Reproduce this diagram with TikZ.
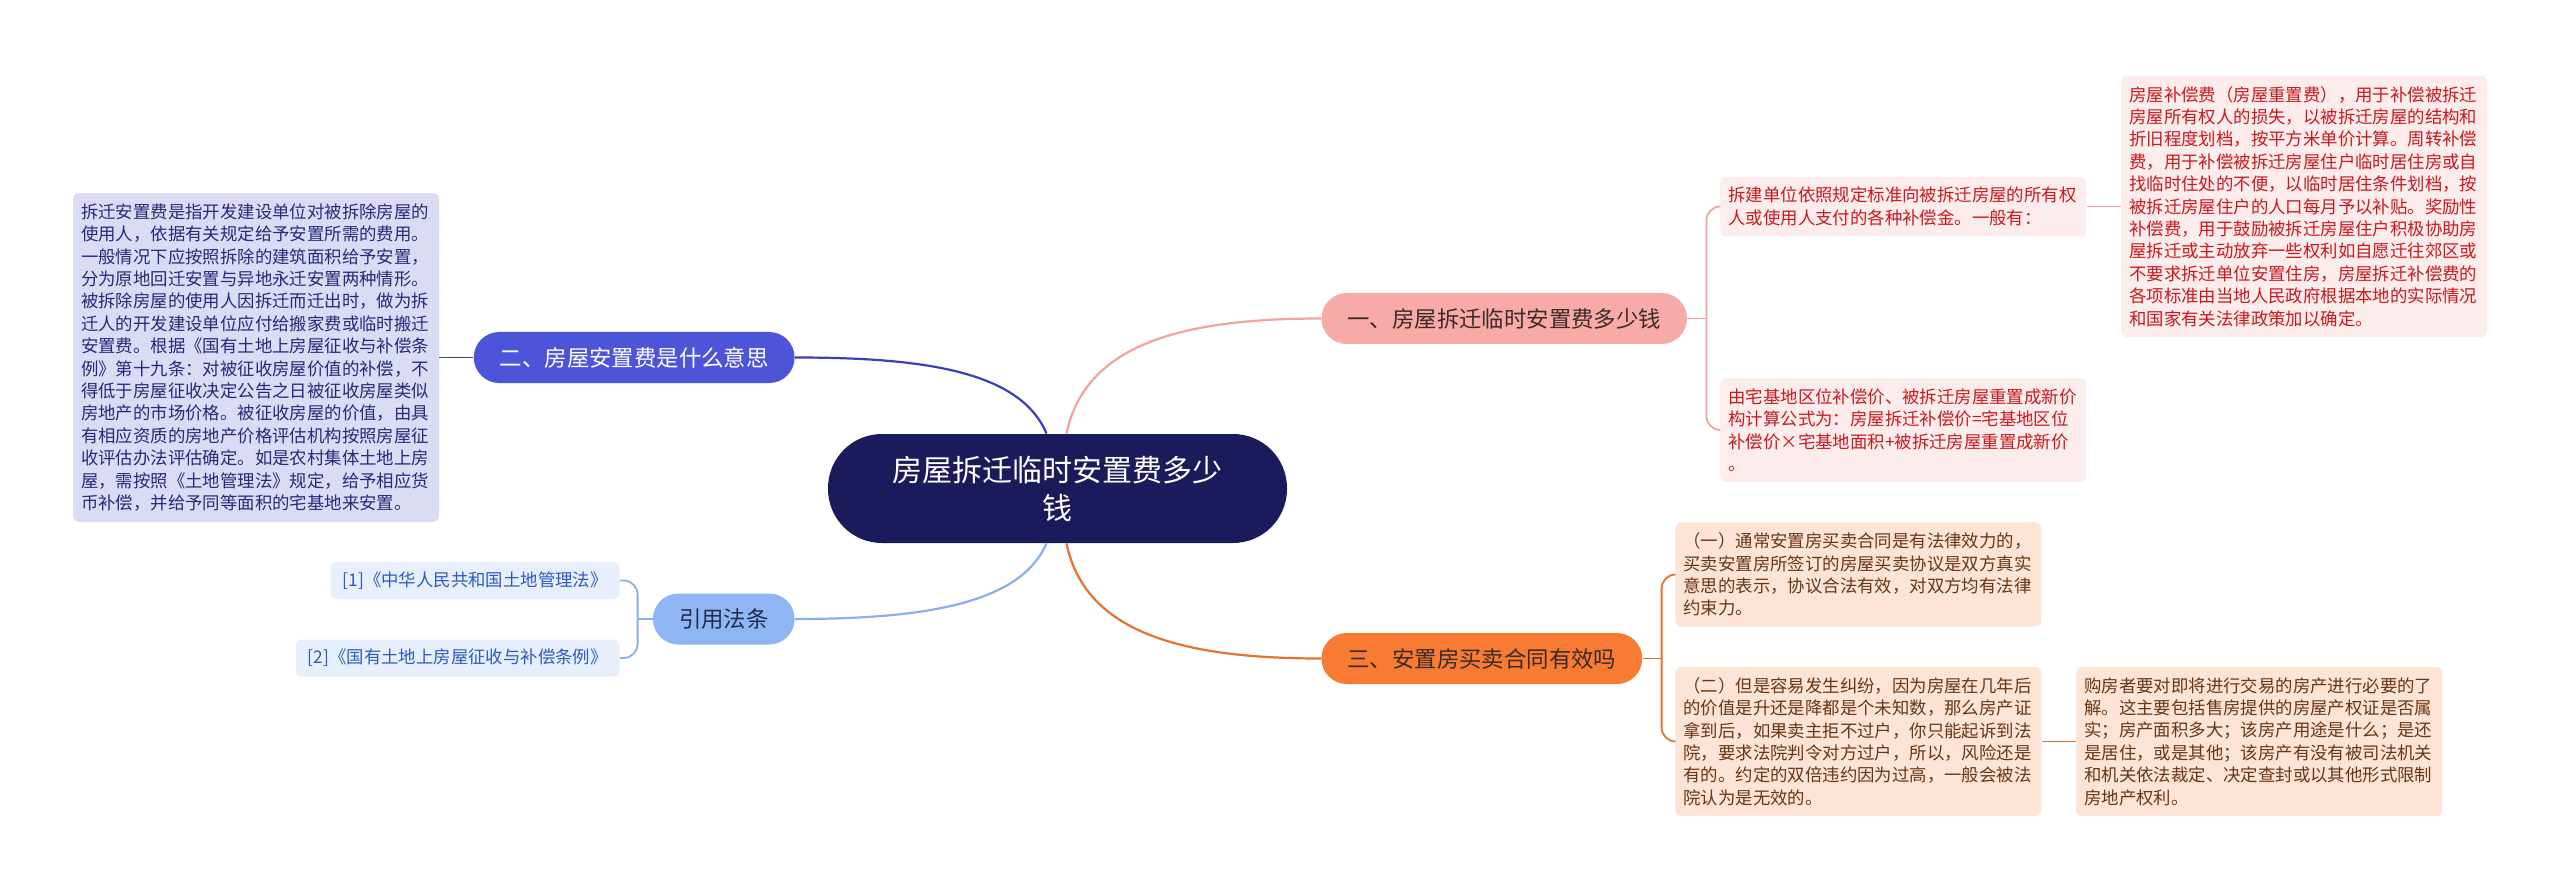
\documentclass[tikz,border=0pt]{standalone}
\usepackage{fontspec}
\setmainfont{Noto Sans CJK SC}
\usetikzlibrary{positioning}
\definecolor{navy}{HTML}{1B1A5B}
\definecolor{rose}{HTML}{F8AAA6}
\definecolor{roseline}{HTML}{F2A3A1}
\definecolor{rosebg}{HTML}{FDECEC}
\definecolor{rosetext}{HTML}{C8191F}
\definecolor{indigo}{HTML}{4C54D8}
\definecolor{indigoline}{HTML}{3B40B5}
\definecolor{indigobg}{HTML}{DADCF6}
\definecolor{indigotext}{HTML}{262A78}
\definecolor{amber}{HTML}{F87B34}
\definecolor{amberline}{HTML}{E5722E}
\definecolor{amberbg}{HTML}{FDE4D7}
\definecolor{ambertext}{HTML}{6A3512}
\definecolor{sky}{HTML}{8FB5F5}
\definecolor{skyline}{HTML}{8AAFEB}
\definecolor{skybg}{HTML}{E7EEFC}
\definecolor{skytext}{HTML}{2C5CC0}
\definecolor{deep}{HTML}{3A2B26}
\definecolor{deepblue}{HTML}{1F2D4D}

\begin{document}
\begin{tikzpicture}[
  x=0.5pt, y=-0.5pt,
  hub/.style={fill=navy, text=white, rounded corners=27pt,
              minimum width=229.5pt, minimum height=54.5pt, align=center,
              font=\fontsize{15pt}{19pt}\selectfont},
  topic/.style={rounded corners=12.7pt, minimum height=25.5pt,
                inner xsep=13pt, font=\fontsize{11.2pt}{13pt}\selectfont},
  note/.style={rounded corners=3pt, text width=175pt, inner xsep=4pt,
               inner ysep=5.2pt, align=left,
               font=\fontsize{8.7pt}{11.2pt}\selectfont},
  cite/.style={rounded corners=3pt, minimum height=18.5pt, inner xsep=6pt,
               font=\fontsize{8.7pt}{11pt}\selectfont},
  trunk/.style={line width=1.1pt},
  twig/.style={line width=0.9pt, rounded corners=7pt},
]
\fill[white] (0,0) rectangle (2560,893);
\useasboundingbox (0,0) rectangle (2560,893);

\node[hub] (root) at (1057.5,488.5) {房屋拆迁临时安置费多少\\钱};

\node[topic, fill=rose, text=deep, anchor=west] (sec1) at (1321,318.5)
  {一、房屋拆迁临时安置费多少钱};
\node[topic, fill=indigo, text=white, anchor=east] (sec2) at (795,357.5)
  {二、房屋安置费是什么意思};
\node[topic, fill=amber, text=deep, anchor=west] (sec3) at (1321,658.5)
  {三、安置房买卖合同有效吗};
\node[topic, fill=sky, text=deepblue, anchor=east] (refs) at (795,619)
  {引用法条};

\node[note, fill=rosebg, text=rosetext, anchor=west] (scope) at (1720,206.5)
  {拆建单位依照规定标准向被拆迁房屋的所有权\\
   人或使用人支付的各种补偿金。一般有：};
\node[note, fill=rosebg, text=rosetext, right=17pt of scope] (items)
  {房屋补偿费（房屋重置费），用于补偿被拆迁\\
   房屋所有权人的损失，以被拆迁房屋的结构和\\
   折旧程度划档，按平方米单价计算。周转补偿\\
   费，用于补偿被拆迁房屋住户临时居住房或自\\
   找临时住处的不便，以临时居住条件划档，按\\
   被拆迁房屋住户的人口每月予以补贴。奖励性\\
   补偿费，用于鼓励被拆迁房屋住户积极协助房\\
   屋拆迁或主动放弃一些权利如自愿迁往郊区或\\
   不要求拆迁单位安置住房，房屋拆迁补偿费的\\
   各项标准由当地人民政府根据本地的实际情况\\
   和国家有关法律政策加以确定。};
\node[note, fill=rosebg, text=rosetext, anchor=west] (formula) at (1720,430)
  {由宅基地区位补偿价、被拆迁房屋重置成新价\\
   构计算公式为：房屋拆迁补偿价=宅基地区位\\
   补偿价×宅基地面积+被拆迁房屋重置成新价\\
   。};

\node[note, fill=indigobg, text=indigotext, left=17pt of sec2] (meaning)
  {拆迁安置费是指开发建设单位对被拆除房屋的\\
   使用人，依据有关规定给予安置所需的费用。\\
   一般情况下应按照拆除的建筑面积给予安置，\\
   分为原地回迁安置与异地永迁安置两种情形。\\
   被拆除房屋的使用人因拆迁而迁出时，做为拆\\
   迁人的开发建设单位应付给搬家费或临时搬迁\\
   安置费。根据《国有土地上房屋征收与补偿条\\
   例》第十九条：对被征收房屋价值的补偿，不\\
   得低于房屋征收决定公告之日被征收房屋类似\\
   房地产的市场价格。被征收房屋的价值，由具\\
   有相应资质的房地产价格评估机构按照房屋征\\
   收评估办法评估确定。如是农村集体土地上房\\
   屋，需按照《土地管理法》规定，给予相应货\\
   币补偿，并给予同等面积的宅基地来安置。};

\node[note, fill=amberbg, text=ambertext, anchor=west] (valid) at (1675,574.5)
  {（一）通常安置房买卖合同是有法律效力的，\\
   买卖安置房所签订的房屋买卖协议是双方真实\\
   意思的表示，协议合法有效，对双方均有法律\\
   约束力。};
\node[note, fill=amberbg, text=ambertext, anchor=west] (risk) at (1675,741.5)
  {（二）但是容易发生纠纷，因为房屋在几年后\\
   的价值是升还是降都是个未知数，那么房产证\\
   拿到后，如果卖主拒不过户，你只能起诉到法\\
   院，要求法院判令对方过户，所以，风险还是\\
   有的。约定的双倍违约因为过高，一般会被法\\
   院认为是无效的。};
\node[note, fill=amberbg, text=ambertext, right=17pt of risk] (check)
  {购房者要对即将进行交易的房产进行必要的了\\
   解。这主要包括售房提供的房屋产权证是否属\\
   实；房产面积多大；该房产用途是什么；是还\\
   是居住，或是其他；该房产有没有被司法机关\\
   和机关依法裁定、决定查封或以其他形式限制\\
   房地产权利。};

\node[cite, fill=skybg, text=skytext, anchor=east] (law1) at (620,580.5)
  {[1]《中华人民共和国土地管理法》};
\node[cite, fill=skybg, text=skytext, anchor=east] (law2) at (620,658)
  {[2]《国有土地上房屋征收与补偿条例》};

% main branches
\draw[trunk, roseline] ([xshift=4.5pt]root.north)
  .. controls (1085,345) and (1180,318.5) .. (sec1.west);
\draw[trunk, amberline] ([xshift=4.5pt]root.south)
  .. controls (1085,632) and (1180,658.5) .. (sec3.west);
\draw[trunk, indigoline] ([xshift=-5.5pt]root.north)
  .. controls (1020,370) and (920,357.5) .. (sec2.east);
\draw[trunk, skyline] ([xshift=-5.5pt]root.south)
  .. controls (1020,605) and (920,619) .. (refs.east);

% sub branches
\coordinate (j1) at ([xshift=9.5pt]sec1.east);
\draw[twig, roseline] (sec1.east) -- (j1);
\foreach \n in {scope, formula}
  \draw[twig, roseline] (j1) |- (\n.west);
\draw[twig, roseline] (scope) -- (items);

\coordinate (j3) at ([xshift=9.5pt]sec3.east);
\draw[twig, amberline] (sec3.east) -- (j3);
\foreach \n in {valid, risk}
  \draw[twig, amberline] (j3) |- (\n.west);
\draw[twig, amberline] (risk) -- (check);

\draw[twig, indigoline] (sec2) -- (meaning);

\coordinate (jr) at ([xshift=-7.5pt]refs.west);
\draw[twig, skyline] (refs.west) -- (jr);
\foreach \n in {law1, law2}
  \draw[twig, skyline] (jr) |- (\n.east);

\end{tikzpicture}
\end{document}
